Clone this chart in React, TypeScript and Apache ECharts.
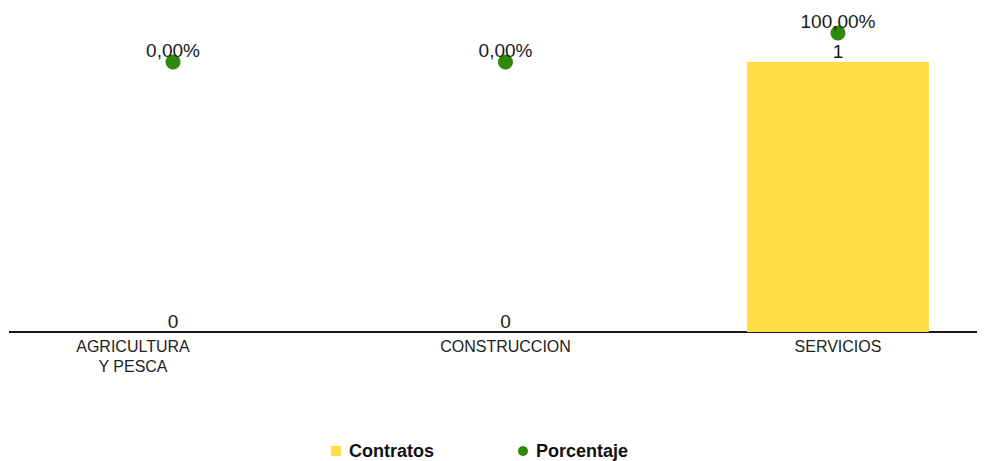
import React, { useEffect, useRef } from "react";
import * as echarts from "echarts";

const categories = ["AGRICULTURA\nY PESCA", "CONSTRUCCION", "SERVICIOS"];
const contratos = [0, 0, 1];
const porcentajeValues = [0, 0, 1];

export default function App() {
  const ref = useRef<HTMLDivElement>(null);
  useEffect(() => {
    if (!ref.current) return;
    const chart = echarts.init(ref.current, null, { renderer: "svg" });
    const font = "'Liberation Sans', Arial, sans-serif";
    chart.setOption({
      animation: false,
      grid: { left: 6.75, width: 997.5, top: 20, height: 312, containLabel: false },
      legend: {
        left: 331,
        top: 442,
        padding: 0,
        itemGap: 84,
        itemWidth: 10,
        itemHeight: 10,
        textStyle: {
          fontFamily: font,
          fontWeight: "bold",
          fontSize: 18,
          color: "#111",
          padding: [0, 0, 0, 3],
        },
        data: [
          { name: "Contratos", icon: "rect" },
          { name: "Porcentaje", icon: "circle" },
        ],
      },
      xAxis: {
        type: "category",
        data: categories.map((c, i) =>
          i === 0 ? { value: c, textStyle: { padding: [0, 80, 0, 0] } } : c
        ),
        axisLine: { show: false },
        axisTick: { show: false },
        axisLabel: {
          interval: 0,
          margin: 4,
          fontFamily: font,
          fontSize: 16,
          lineHeight: 20,
          color: "#222",
        },
      },
      yAxis: [
        { type: "value", min: 0, max: 312 / 270, show: false },
        { type: "value", min: -270 / 29, max: 1 + 13 / 29, show: false },
      ],
      graphic: [
        {
          type: "line",
          shape: { x1: 9, y1: 332, x2: 977, y2: 332 },
          style: { stroke: "#1a1a1a", lineWidth: 2 },
          z: 1,
        },
      ],
      series: [
        {
          name: "Contratos",
          type: "bar",
          yAxisIndex: 0,
          barWidth: "54.7%",
          data: contratos,
          itemStyle: { color: "#FFDD44" },
          z: 2,
          label: {
            show: true,
            position: "top",
            distance: 1,
            fontFamily: font,
            fontSize: 19,
            color: "#1a1a1a",
          },
        },
        {
          name: "Porcentaje",
          type: "scatter",
          yAxisIndex: 1,
          symbol: "circle",
          symbolSize: 15,
          data: porcentajeValues,
          itemStyle: { color: "#2E8A0A", opacity: 1 },
          z: 3,
          label: {
            show: true,
            position: "top",
            distance: -5,
            fontFamily: font,
            fontSize: 19,
            color: "#1a1a1a",
            formatter: (p: any) =>
              (p.value * 100).toFixed(2).replace(".", ",") + "%",
          },
        },
      ],
    });
    return () => chart.dispose();
  }, []);
  return (
    <div
      style={{
        position: "absolute",
        left: 0,
        top: 0,
        width: 992,
        height: 461,
        overflow: "hidden",
      }}
    >
      <div ref={ref} style={{ width: 1020, height: 461 }} />
    </div>
  );
}
